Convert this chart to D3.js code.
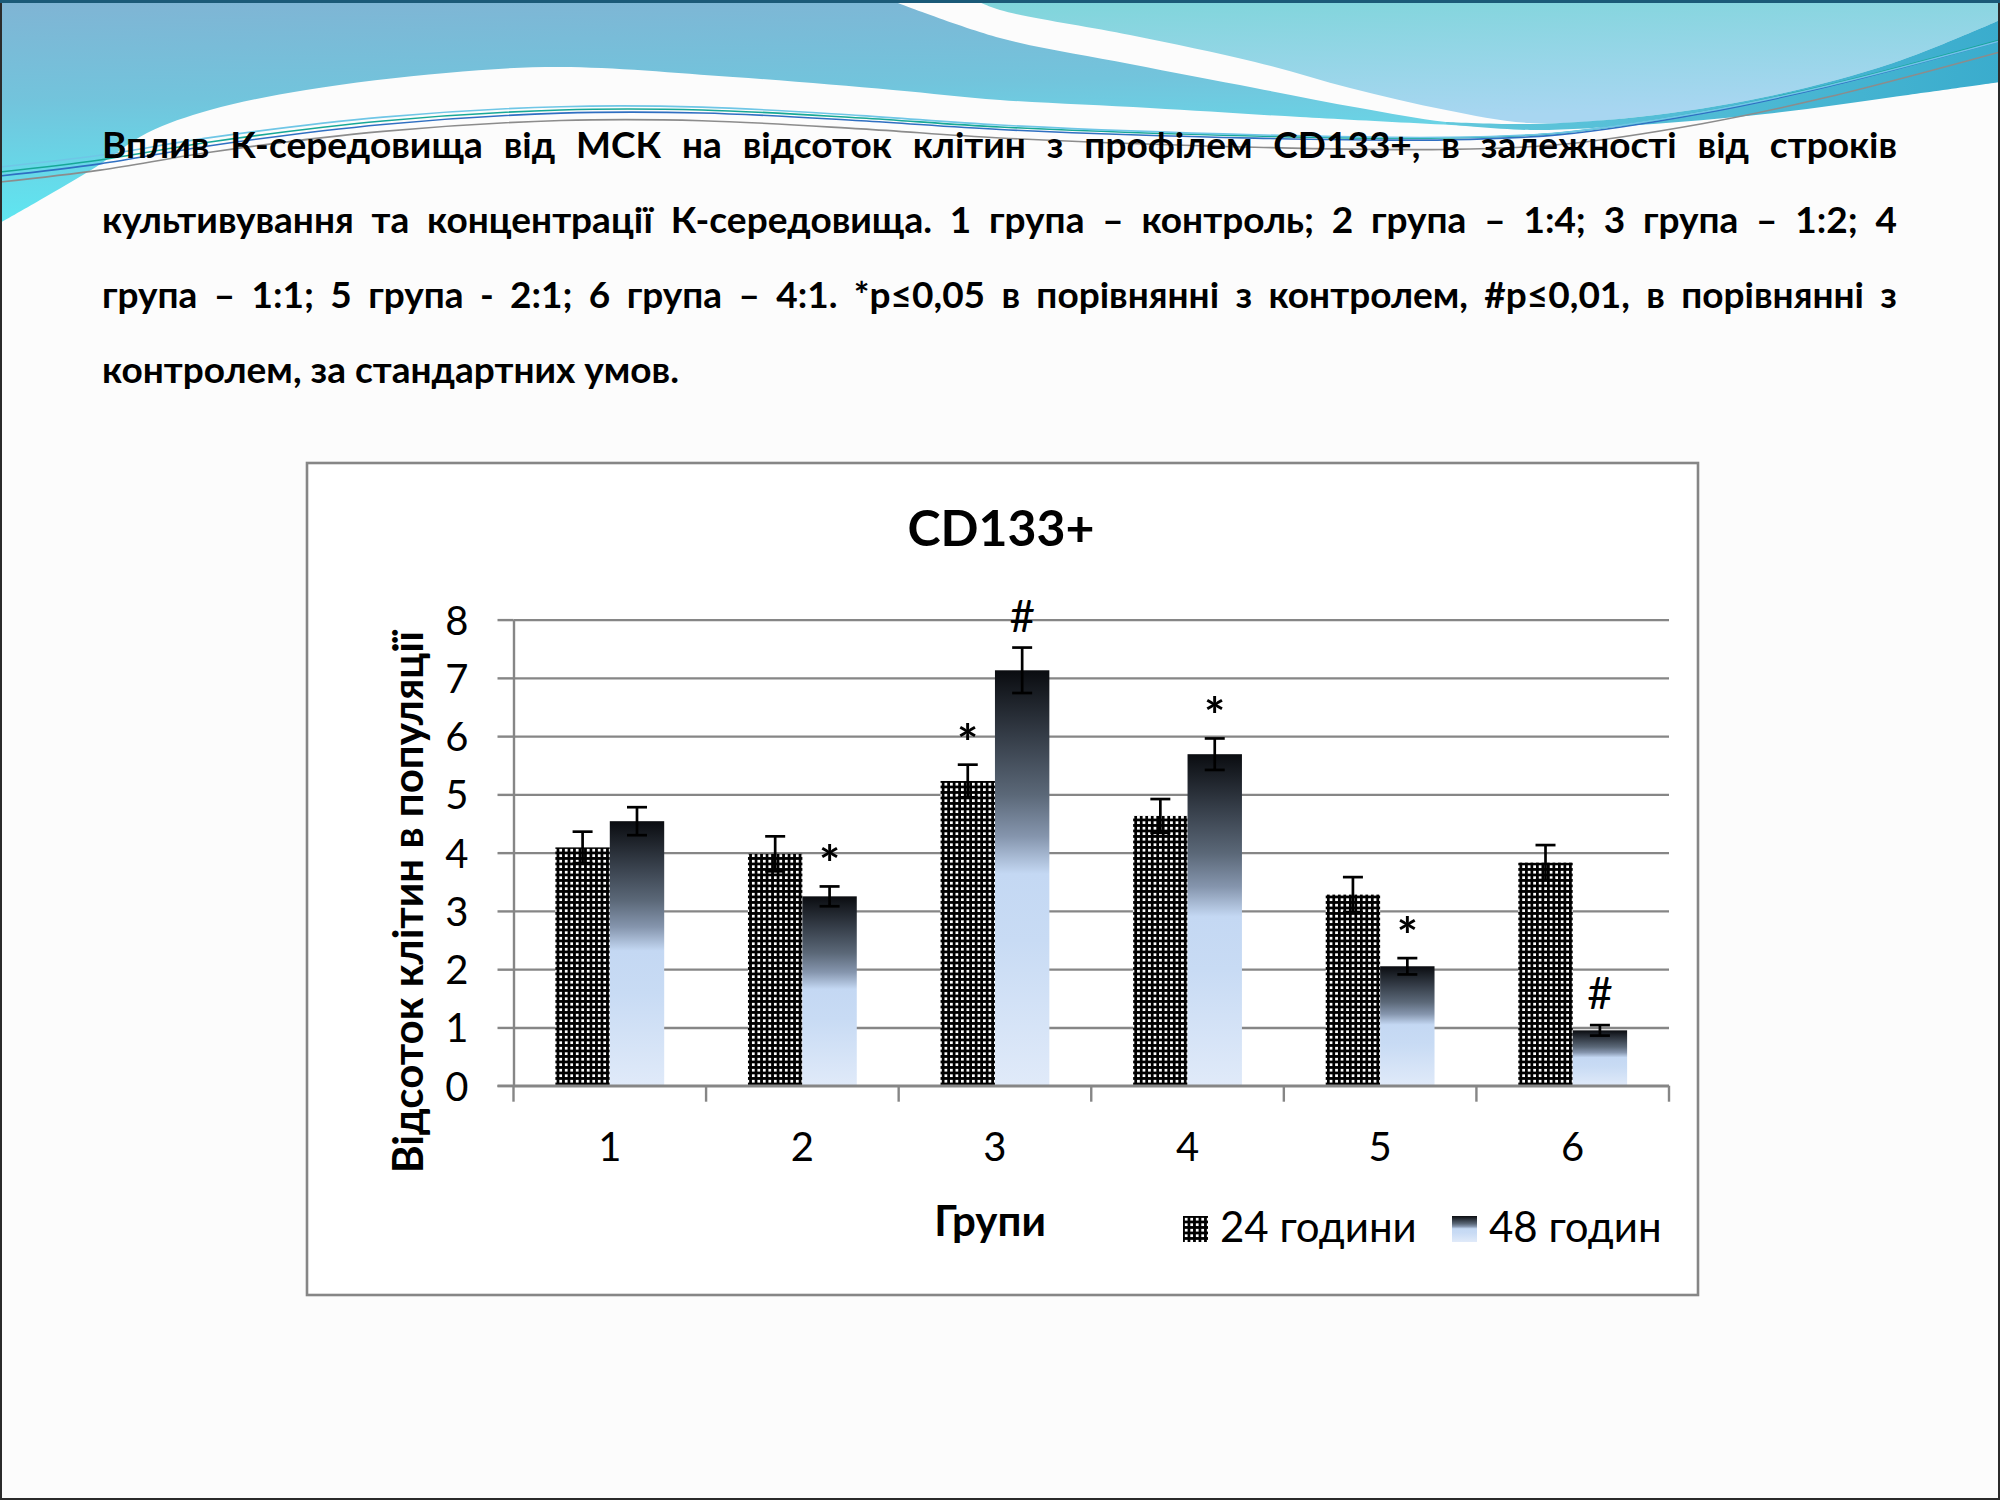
<!DOCTYPE html>
<html>
<head>
<meta charset="utf-8">
<script src="https://cdn.jsdelivr.net/npm/d3@7"></script>
<style>
  html, body { margin: 0; padding: 0; background: #fff; }
  svg { display: block; }
  text { font-family: Lato, "Open Sans", sans-serif; }
</style>
</head>
<body>
<div id="slide"></div>
<script>
// data
const groups = ['1', '2', '3', '4', '5', '6'];
const seriesNames = ['24 години', '48 годин'];
const values24 = [4.09, 3.98, 5.23, 4.63, 3.28, 3.83];
const values48 = [4.54, 3.25, 7.13, 5.69, 2.05, 0.95];
const err24 = [0.27, 0.30, 0.28, 0.29, 0.30, 0.30];
const err48 = [0.24, 0.17, 0.39, 0.27, 0.14, 0.09];
const marks24 = ['', '', '*', '', '', ''];
const marks48 = ['', '*', '#', '*', '*', '#'];
const yTicks = [0, 1, 2, 3, 4, 5, 6, 7, 8];

const chartTitle = 'CD133+';
const yTitle = 'Відсоток клітин в популяції';
const xTitle = 'Групи';
const captionLines = [
    'Вплив К-середовища від МСК на відсоток клітин з профілем CD133+, в залежності від строків',
    'культивування та концентрації К-середовища. 1 група – контроль; 2 група – 1:4; 3 група – 1:2; 4',
    'група – 1:1; 5 група -  2:1; 6 група – 4:1. *p≤0,05 в порівнянні з контролем, #p≤0,01, в порівнянні з',
    'контролем, за стандартних умов.'
];

const W = 2000, H = 1500;

const svg = d3.select('#slide')
    .append('svg')
    .attr('width', W)
    .attr('height', H);

const defs = svg.append('defs');

// ---- slide background + top decoration
svg.append('rect').attr('width', W).attr('height', H).attr('fill', '#fcfcfc');

const gLeft = defs.append('linearGradient').attr('id', 'waveLeft')
    .attr('x1', 0).attr('y1', 0).attr('x2', 0.15).attr('y2', 1);
gLeft.append('stop').attr('offset', 0).attr('stop-color', '#80b4d4');
gLeft.append('stop').attr('offset', 0.45).attr('stop-color', '#72c4dc');
gLeft.append('stop').attr('offset', 1).attr('stop-color', '#5ee8f2');

const gRight = defs.append('linearGradient').attr('id', 'waveRight')
    .attr('x1', 0).attr('y1', 0).attr('x2', 0.3).attr('y2', 1);
gRight.append('stop').attr('offset', 0).attr('stop-color', '#7ed5da');
gRight.append('stop').attr('offset', 1).attr('stop-color', '#a8d6f1');

const gBand = defs.append('linearGradient').attr('id', 'waveBand')
    .attr('x1', 0).attr('y1', 0).attr('x2', 1).attr('y2', 0);
gBand.append('stop').attr('offset', 0).attr('stop-color', '#62c8dc');
gBand.append('stop').attr('offset', 1).attr('stop-color', '#3aaccd');

const curve = d3.line().curve(d3.curveCatmullRom);
const seg = pts => curve(pts).replace(/^M/, 'L');

svg.append('path')
    .attr('fill', 'url(#waveLeft)')
    .attr('d', 'M0,0L890,0' +
        seg([[890, 0], [1000, 38], [1130, 64], [1255, 88], [1360, 108], [1446, 122], [1530, 128]]) +
        seg([[1530, 129], [1300, 117], [1150, 108], [1000, 100], [893, 90], [733, 77], [561, 67],
            [446, 73], [306, 90], [210, 110], [147, 133], [96, 167], [40, 200], [0, 223]]) + 'Z');

svg.append('path')
    .attr('fill', 'url(#waveRight)')
    .attr('d', 'M975,0L2000,0L2000,20' +
        seg([[2000, 20], [1893, 63], [1765, 97], [1638, 117], [1530, 123], [1446, 110], [1350, 88],
            [1255, 62], [1130, 35], [1000, 10], [975, 0]]) + 'Z');

svg.append('path')
    .attr('fill', 'url(#waveBand)')
    .attr('d', 'M1446,122' +
        seg([[1446, 122], [1530, 124], [1638, 117], [1765, 97], [1893, 63], [2000, 20]]) +
        'L2000,82' +
        seg([[2000, 82], [1893, 97], [1765, 114], [1638, 125], [1530, 130], [1446, 124]]) + 'Z');

const swirl = [[0, 172], [100, 160], [210, 142], [383, 121], [561, 110], [702, 110], [861, 118],
    [1000, 127], [1255, 136], [1446, 138], [1560, 133], [1702, 112], [1829, 85], [2000, 40]];
[['#17a897', 0, 0], ['#2f6fc2', 4, -3], ['#8c8c8c', 10, 2], ['#6fc6e6', -5, 6]].forEach(([c, dy, dr]) => {
    svg.append('path')
        .attr('fill', 'none')
        .attr('stroke', c)
        .attr('stroke-width', 1.6)
        .attr('d', curve(swirl.map(([x, y]) => [x, y + dy + dr * x / 2000])));
});

svg.append('rect').attr('x', 1).attr('y', 1).attr('width', W - 2).attr('height', H - 2)
    .attr('fill', 'none').attr('stroke', '#2b2b2b').attr('stroke-width', 2);
svg.append('line').attr('x1', 0).attr('x2', W).attr('y1', 1.5).attr('y2', 1.5)
    .attr('stroke', '#1b5a78').attr('stroke-width', 3);

// ---- caption paragraph, justified by hand
const capLeft = 102, capRight = 1897;
const capBase = [158, 233, 308, 383];
const capG = svg.append('g')
    .attr('font-size', 37)
    .attr('font-weight', 'bold')
    .attr('fill', '#000');
const probe = capG.append('text').text('a a');
const probe2 = capG.append('text').text('aa');
const spaceW = probe.node().getComputedTextLength() - probe2.node().getComputedTextLength();
probe.remove(); probe2.remove();

captionLines.forEach((line, i) => {
    const words = line.split(/\s+/);
    const texts = words.map(w => capG.append('text').attr('y', capBase[i]).text(w));
    const widths = texts.map(t => t.node().getComputedTextLength());
    const last = i === captionLines.length - 1;
    const gap = last ? spaceW : (capRight - capLeft - d3.sum(widths)) / (words.length - 1);
    let xp = capLeft;
    texts.forEach((t, j) => {
        t.attr('x', xp);
        xp += widths[j] + gap;
    });
});

// ---- chart frame
svg.append('rect')
    .attr('x', 307).attr('y', 463)
    .attr('width', 1391).attr('height', 832)
    .attr('fill', '#fff')
    .attr('stroke', '#868686')
    .attr('stroke-width', 2.6);

const plotL = 513.5, plotR = 1669, plotT = 619.6, plotB = 1085.7;
const gridColor = '#868686';

const x = d3.scaleBand().domain(groups).range([plotL, plotR]).padding(0);
const xSub = d3.scaleBand().domain(seriesNames).range([0, x.bandwidth()]).paddingInner(0).paddingOuter(0.77);
const y = d3.scaleLinear().domain([0, 8]).range([plotB, plotT]);

// pattern for 24h, gradient for 48h
const pat = defs.append('pattern').attr('id', 'checks')
    .attr('patternUnits', 'userSpaceOnUse')
    .attr('width', 5.5).attr('height', 5.5);
pat.append('rect').attr('width', 5.5).attr('height', 5.5).attr('fill', '#000');
pat.append('rect').attr('x', 2).attr('y', 2).attr('width', 3).attr('height', 3)
    .attr('fill', '#fff').attr('shape-rendering', 'crispEdges');

const grad = defs.append('linearGradient').attr('id', 'grad48')
    .attr('x1', 0).attr('y1', 0).attr('x2', 0).attr('y2', 1);
[[0, '#0a0c10'], [0.16, '#353d48'], [0.30, '#5b6878'], [0.40, '#8595ad'],
    [0.49, '#c4d8f3'], [0.65, '#c8dbf4'], [1, '#e0eaf9']].forEach(([o, c]) => {
    grad.append('stop').attr('offset', o).attr('stop-color', c);
});
const fills = ['url(#checks)', 'url(#grad48)'];

// gridlines
svg.append('g')
    .attr('transform', `translate(${plotL},0)`)
    .call(d3.axisLeft(y).tickValues(yTicks).tickSize(-(plotR - plotL)).tickFormat(''))
    .call(g => g.select('.domain').remove())
    .call(g => g.selectAll('line').attr('stroke', gridColor).attr('stroke-width', 2.4));

// y axis with outward ticks
const yAxis = svg.append('g')
    .attr('transform', `translate(${plotL},0)`)
    .call(d3.axisLeft(y).tickValues(yTicks).tickSize(16).tickPadding(29).tickSizeOuter(0));
yAxis.select('.domain').attr('stroke', gridColor).attr('stroke-width', 2.4);
yAxis.selectAll('line').attr('stroke', gridColor).attr('stroke-width', 2.4);
yAxis.selectAll('text')
    .attr('font-family', 'Lato')
    .attr('font-size', 40)
    .attr('fill', '#000')
    .attr('dy', 14.5);

// bars
const rows = groups.map((g, i) => ({
    group: g,
    items: [
        {s: seriesNames[0], k: 0, v: values24[i], e: err24[i], m: marks24[i]},
        {s: seriesNames[1], k: 1, v: values48[i], e: err48[i], m: marks48[i]}
    ]
}));

const groupSel = svg.append('g').attr('class', 'bars')
    .selectAll('g')
    .data(rows)
    .enter()
    .append('g')
    .attr('transform', d => `translate(${x(d.group)},0)`);

groupSel.selectAll('rect')
    .data(d => d.items)
    .enter()
    .append('rect')
    .attr('x', d => xSub(d.s))
    .attr('y', d => y(d.v))
    .attr('width', xSub.bandwidth())
    .attr('height', d => y(0) - y(d.v))
    .attr('fill', d => fills[d.k]);

// x axis: line at 0 with ticks between the groups
svg.append('line')
    .attr('x1', plotL - 16).attr('x2', plotR)
    .attr('y1', plotB).attr('y2', plotB)
    .attr('stroke', gridColor).attr('stroke-width', 2.6);
svg.append('g')
    .selectAll('line')
    .data(groups.map(g => x(g)).concat([plotR]))
    .enter()
    .append('line')
    .attr('x1', d => d).attr('x2', d => d)
    .attr('y1', plotB).attr('y2', plotB + 16)
    .attr('stroke', gridColor).attr('stroke-width', 2.4);

const xAxis = svg.append('g')
    .attr('transform', `translate(0,${plotB})`)
    .call(d3.axisBottom(x).tickSize(0));
xAxis.select('.domain').remove();
xAxis.selectAll('text')
    .attr('font-family', 'Lato')
    .attr('font-size', 40)
    .attr('fill', '#000')
    .attr('dy', null)
    .attr('y', 1161 - plotB);

// error bars
const capW = 20;
const eb = groupSel.selectAll('g.err')
    .data(d => d.items)
    .enter()
    .append('g')
    .attr('class', 'err')
    .attr('stroke', '#000')
    .attr('stroke-width', 2.7);
const cx = d => xSub(d.s) + xSub.bandwidth() / 2;
eb.append('line')
    .attr('x1', cx).attr('x2', cx)
    .attr('y1', d => y(d.v + d.e)).attr('y2', d => y(d.v - d.e));
eb.append('line')
    .attr('x1', d => cx(d) - capW / 2).attr('x2', d => cx(d) + capW / 2)
    .attr('y1', d => y(d.v + d.e)).attr('y2', d => y(d.v + d.e));
eb.append('line')
    .attr('x1', d => cx(d) - capW / 2).attr('x2', d => cx(d) + capW / 2)
    .attr('y1', d => y(d.v - d.e)).attr('y2', d => y(d.v - d.e));

// significance marks
groupSel.selectAll('text.mark')
    .data(d => d.items.filter(it => it.m))
    .enter()
    .append('text')
    .attr('class', 'mark')
    .attr('text-anchor', 'middle')
    .attr('x', cx)
    .attr('y', d => y(d.v + d.e) - (d.m === '#' ? 16 : 4))
    .attr('font-size', d => d.m === '#' ? 44 : 50)
    .attr('font-weight', d => d.m === '#' ? 'normal' : 'bold')
    .attr('fill', '#000')
    .text(d => d.m);

// titles
svg.append('text')
    .attr('x', 1001).attr('y', 546)
    .attr('text-anchor', 'middle')
    .attr('font-size', 50)
    .attr('font-weight', 'bold')
    .text(chartTitle);

svg.append('text')
    .attr('transform', 'translate(423,902) rotate(-90)')
    .attr('text-anchor', 'middle')
    .attr('font-size', 42)
    .attr('font-weight', 'bold')
    .text(yTitle);

svg.append('text')
    .attr('x', 990).attr('y', 1236)
    .attr('text-anchor', 'middle')
    .attr('font-size', 42)
    .attr('font-weight', 'bold')
    .text(xTitle);

// legend
const legendX = [1183, 1452];
const legend = svg.append('g')
    .selectAll('g')
    .data(seriesNames)
    .enter()
    .append('g')
    .attr('transform', (d, i) => `translate(${legendX[i]},1216)`);
legend.append('rect')
    .attr('width', 25).attr('height', 26)
    .attr('fill', (d, i) => fills[i]);
legend.append('text')
    .attr('x', 37).attr('y', 26)
    .attr('font-size', 42)
    .attr('fill', '#000')
    .text(d => d);
</script>
</body>
</html>
